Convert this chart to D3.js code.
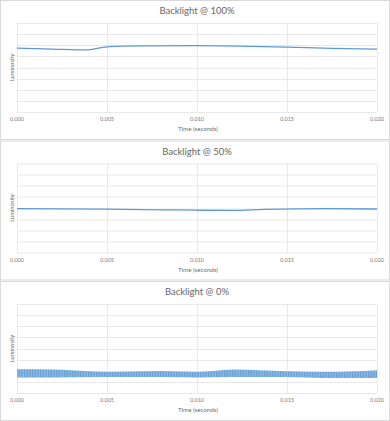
<!DOCTYPE html>
<html>
<head>
<meta charset="utf-8" />
<script src="https://cdn.jsdelivr.net/npm/d3@7/dist/d3.min.js"></script>
<style>
  body { margin: 0; background: #fff; }
  .title { font-family: Lato, "Open Sans", sans-serif; font-size: 9.5px; fill: #666; }
  .tick-label { font-family: Lato, sans-serif; font-size: 5.5px; fill: #7a7a7a; }
  .axis-title { font-family: Lato, sans-serif; font-size: 6.2px; fill: #6e6e6e; }
</style>
</head>
<body>
<script>
// chart data
var titles = ["Backlight @ 100%", "Backlight @ 50%", "Backlight @ 0%"];
var xTicks = [0, 0.005, 0.010, 0.015, 0.020];
var yGrid = [0, 1, 2, 3, 4, 5, 6, 7, 8];

var t100 = [0, 0.0020, 0.0038, 0.0050, 0.0070, 0.0100, 0.0130, 0.0150, 0.0175, 0.0200];
var lum100 = [5.75, 5.66, 5.58, 5.86, 5.94, 5.96, 5.90, 5.83, 5.72, 5.66];

var t50 = [0, 0.0050, 0.0080, 0.0100, 0.0120, 0.0137, 0.0155, 0.0170, 0.0200];
var lum50 = [3.95, 3.89, 3.84, 3.80, 3.78, 3.87, 3.92, 3.94, 3.91];

// backlight 0%: fast flicker, drawn as its upper / lower envelope
var t0 = [0, 0.002, 0.005, 0.008, 0.010, 0.012, 0.015, 0.017, 0.020];
var lum0Hi = [2.14, 2.11, 1.89, 1.98, 1.89, 2.11, 1.96, 1.89, 2.05];
var lum0Lo = [1.39, 1.39, 1.44, 1.44, 1.39, 1.44, 1.44, 1.35, 1.35];

var W = 390, H = 421;
var panelH = 140;
var plotL = 17, plotR = 377, plotT = 23, plotB = 112;
var blue = "#5b9bd5";

var svg = d3.select("body").append("svg")
  .attr("width", W).attr("height", H);

var defs = svg.append("defs");
var pat = defs.append("pattern")
  .attr("id", "flicker")
  .attr("patternUnits", "userSpaceOnUse")
  .attr("width", 1.6).attr("height", 4);
pat.append("rect").attr("width", 1.6).attr("height", 4).attr("fill", "#5f9fd8");
pat.append("rect").attr("x", 0.9).attr("width", 0.6).attr("height", 4).attr("fill", "#a6c8ea");

var x = d3.scaleLinear().domain([0, 0.02]).range([plotL, plotR]);
var y = d3.scaleLinear().domain([0, 8]).range([plotB, plotT]);

function panel(i) {
  var g = svg.append("g").attr("transform", "translate(0," + (i * 140.5) + ")");
  g.append("rect")
    .attr("x", 0.5).attr("y", 0.5)
    .attr("width", W - 1).attr("height", panelH - 1)
    .attr("fill", "#fff").attr("stroke", "#d9d9d9");

  g.append("text").attr("class", "title")
    .attr("x", (plotL + plotR) / 2).attr("y", 14)
    .attr("text-anchor", "middle")
    .text(titles[i]);

  g.selectAll(".hgrid").data(yGrid).enter().append("line")
    .attr("x1", plotL).attr("x2", plotR)
    .attr("y1", function(d) { return Math.round(y(d)) + 0.5; })
    .attr("y2", function(d) { return Math.round(y(d)) + 0.5; })
    .attr("stroke", "#e3e3e3").attr("stroke-width", 0.8);

  g.selectAll(".vgrid").data(xTicks).enter().append("line")
    .attr("y1", plotT).attr("y2", plotB)
    .attr("x1", function(d) { return Math.round(x(d)) + 0.5; })
    .attr("x2", function(d) { return Math.round(x(d)) + 0.5; })
    .attr("stroke", "#e3e3e3").attr("stroke-width", 0.8);

  g.selectAll(".tick-label").data(xTicks).enter().append("text")
    .attr("class", "tick-label")
    .attr("x", function(d) { return x(d); })
    .attr("y", 121)
    .attr("text-anchor", "middle")
    .text(function(d) { return d3.format(".3f")(d); });

  g.append("text").attr("class", "axis-title")
    .attr("x", (plotL + plotR) / 2 + 1).attr("y", 131)
    .attr("text-anchor", "middle")
    .text("Time (seconds)");

  g.append("text").attr("class", "axis-title")
    .attr("transform", "translate(14," + ((plotT + plotB) / 2) + ") rotate(-90)")
    .attr("text-anchor", "middle")
    .style("font-size", "5.8px")
    .text("Luminosity");
  return g;
}

var line = d3.line().curve(d3.curveMonotoneX)
  .x(function(d) { return x(d[0]); })
  .y(function(d) { return y(d[1]); });

var g1 = panel(0);
g1.append("path")
  .datum(d3.zip(t100, lum100))
  .attr("fill", "none").attr("stroke", blue).attr("stroke-width", 1.3)
  .attr("d", line);

var g2 = panel(1);
g2.append("path")
  .datum(d3.zip(t50, lum50))
  .attr("fill", "none").attr("stroke", blue).attr("stroke-width", 1.3)
  .attr("d", line);

var g3 = panel(2);
g3.append("path")
  .datum(d3.zip(t0, lum0Hi, lum0Lo))
  .attr("fill", "url(#flicker)").attr("stroke", "none")
  .attr("d", d3.area().curve(d3.curveMonotoneX)
    .x(function(d) { return x(d[0]); })
    .y0(function(d) { return y(d[2]); })
    .y1(function(d) { return y(d[1]); }));
</script>
</body>
</html>
